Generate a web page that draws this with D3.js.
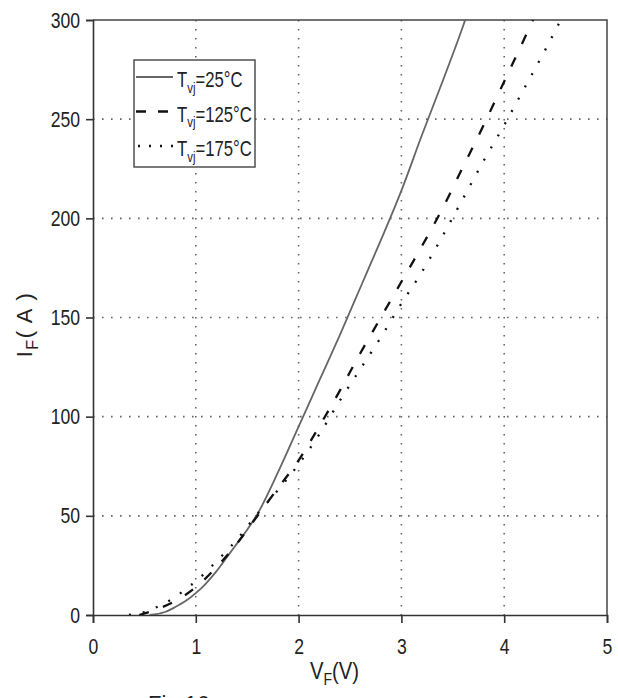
<!DOCTYPE html>
<html>
<head>
<meta charset="utf-8">
<script src="https://cdn.jsdelivr.net/npm/d3@7"></script>
<style>
  body { margin: 0; background: #fff; }
  svg text { font-family: "Liberation Sans Narrow", "Arial Narrow", "Liberation Sans", Arial, sans-serif; fill: #222; }
</style>
</head>
<body>
<div class="chart-container"></div>
<script>
// Forward characteristic: [VF (V), IF (A)]
const vf25 = [0.55, 0.7, 0.8, 0.9, 1.0, 1.1, 1.2, 1.3, 1.4, 1.5, 1.6, 1.8, 2.0, 2.2, 2.4, 2.6, 2.8, 3.0, 3.2, 3.4, 3.6, 3.62];
const if25 = [0, 1.5, 4, 7, 11, 16, 22, 29, 36, 43, 51, 72, 95, 118, 141, 165, 189, 214, 242, 269, 297, 300];

const vf125 = [0.45, 0.6, 0.8, 1.0, 1.2, 1.4, 1.6, 1.8, 2.0, 2.2, 2.4, 2.6, 2.8, 3.0, 3.2, 3.4, 3.6, 3.8, 4.0, 4.2, 4.28];
const if125 = [0, 2.5, 7, 14, 24, 36, 50, 64, 78, 95, 113, 132, 150, 168, 186, 205, 226, 247, 269, 291, 300];

const vf175 = [0.35, 0.5, 0.6, 0.7, 0.8, 0.9, 1.0, 1.2, 1.4, 1.6, 1.8, 2.0, 2.2, 2.4, 2.6, 2.8, 3.0, 3.2, 3.4, 3.6, 3.8, 4.0, 4.2, 4.4, 4.54];
const if175 = [0, 1.5, 3.5, 6, 9, 13, 17, 27, 38, 51, 63, 76, 91, 108, 124, 140, 157, 173, 191, 210, 229, 247, 266, 285, 299];

const xTicks = [0, 1, 2, 3, 4, 5];
const yTicks = [0, 50, 100, 150, 200, 250, 300];
const seriesNames = ["25°C", "125°C", "175°C"];

// Dimensions
const W = 618, H = 698;
const margin = { top: 20, right: 11, bottom: 83, left: 93 };
const width = W - margin.left - margin.right;
const height = H - margin.top - margin.bottom;
const narrow = 0.8; // squeeze text horizontally, no narrow font installed

const svg = d3.select(".chart-container")
    .append("svg")
        .attr("width", W)
        .attr("height", H)
    .append("g")
        .attr("transform", `translate(${margin.left}, ${margin.top})`);

const x = d3.scaleLinear().domain([0, 5]).range([0, width]);
const y = d3.scaleLinear().domain([0, 300]).range([height, 0]);

// dotted grid
svg.append("g").selectAll("line")
    .data(xTicks.slice(1, -1))
    .join("line")
        .attr("x1", d => x(d)).attr("x2", d => x(d))
        .attr("y1", 0).attr("y2", height)
        .attr("stroke", "#666").attr("stroke-width", 1.6)
        .attr("stroke-dasharray", "1.6,7.4");
svg.append("g").selectAll("line")
    .data(yTicks.slice(1, -1))
    .join("line")
        .attr("y1", d => y(d)).attr("y2", d => y(d))
        .attr("x1", 0).attr("x2", width)
        .attr("stroke", "#666").attr("stroke-width", 1.6)
        .attr("stroke-dasharray", "1.6,7.4");

// frame (top + right)
svg.append("path")
    .attr("d", `M0,0H${width}V${height}`)
    .attr("fill", "none").attr("stroke", "#444").attr("stroke-width", 1.5);

// axes
const gX = svg.append("g")
    .attr("transform", `translate(0, ${height})`)
    .call(d3.axisBottom(x).tickValues(xTicks).tickFormat(d3.format("d")).tickSizeOuter(0).tickSize(8).tickPadding(15));
const gY = svg.append("g")
    .call(d3.axisLeft(y).tickValues(yTicks).tickSizeOuter(0).tickSize(7).tickPadding(6));
[gX, gY].forEach(g => {
    g.select(".domain").attr("stroke", "#333").attr("stroke-width", 1.6);
    g.selectAll(".tick line").attr("stroke", "#333").attr("stroke-width", 1.6);
    g.selectAll(".tick text")
        .attr("font-size", 22).attr("fill", "#222")
        .style("font-family", '"Liberation Sans", Arial, sans-serif')
        .attr("x", function() { return (+this.getAttribute("x") || 0) / narrow; })
        .attr("transform", `scale(${narrow},1)`);
});

// curves
svg.append("clipPath").attr("id", "clip")
    .append("rect").attr("width", width).attr("height", height);

const line = d3.line()
    .x(d => x(d[0]))
    .y(d => y(d[1]))
    .curve(d3.curveMonotoneX);

const series = [
    { pts: d3.zip(vf25, if25), color: "#666", w: 1.8, dash: null },
    { pts: d3.zip(vf125, if125), color: "#111", w: 2.3, dash: "10,15" },
    { pts: d3.zip(vf175, if175), color: "#111", w: 2.3, dash: "2,12" }
];

svg.append("g").attr("clip-path", "url(#clip)")
    .selectAll("path")
    .data(series)
    .join("path")
        .attr("d", d => line(d.pts))
        .attr("fill", "none")
        .attr("stroke", d => d.color)
        .attr("stroke-width", d => d.w)
        .attr("stroke-dasharray", d => d.dash);

// legend
const lgNarrow = 0.76;
const lg = svg.append("g").attr("transform", "translate(41, 40)");
lg.append("rect")
    .attr("width", 121).attr("height", 107)
    .attr("fill", "#fff").attr("stroke", "#444").attr("stroke-width", 1.4);
const rows = lg.selectAll("g")
    .data(series.map((s, i) => ({ ...s, name: seriesNames[i] })))
    .join("g")
        .attr("transform", (d, i) => `translate(0, ${17 + i * 34.5})`);
rows.append("line")
    .attr("x1", 2).attr("x2", 39)
    .attr("stroke", d => d.color)
    .attr("stroke-width", d => d.w)
    .attr("stroke-dasharray", (d, i) => i === 1 ? "10,12" : i === 2 ? "2,9" : null)
    .attr("stroke-dashoffset", (d, i) => i === 2 ? -2 : 0);
const lt = rows.append("text")
    .attr("x", 43 / lgNarrow).attr("y", 10)
    .attr("transform", `scale(${lgNarrow},1)`)
    .attr("font-size", 22);
lt.append("tspan").text("T");
lt.append("tspan").attr("font-size", 15).attr("dy", 6).text("vj");
lt.append("tspan").attr("dy", -6).text(d => "=" + d.name);

// axis titles
const xt = svg.append("text")
    .attr("x", 217 / 0.88).attr("y", height + 64)
    .attr("transform", "scale(0.88,1)")
    .attr("font-size", 23);
xt.append("tspan").text("V");
xt.append("tspan").attr("font-size", 16).attr("dy", 6).text("F");
xt.append("tspan").attr("dy", -6).text("(V)");

const yt = svg.append("text")
    .attr("transform", `translate(${-61}, ${y(150) + 7}) rotate(-90)`)
    .attr("text-anchor", "middle")
    .attr("font-size", 22)
    .attr("letter-spacing", 1.5);
yt.append("tspan").text("I");
yt.append("tspan").attr("font-size", 16).attr("dy", 6).text("F");
yt.append("tspan").attr("dy", -6).text("( A )");

// figure caption, cut off by the bottom edge as in the source
d3.select("svg").append("text")
    .attr("x", 148).attr("y", 711)
    .attr("font-size", 22)
    .style("font-family", '"Liberation Sans", Arial, sans-serif')
    .text("Fig.16");
</script>
</body>
</html>
